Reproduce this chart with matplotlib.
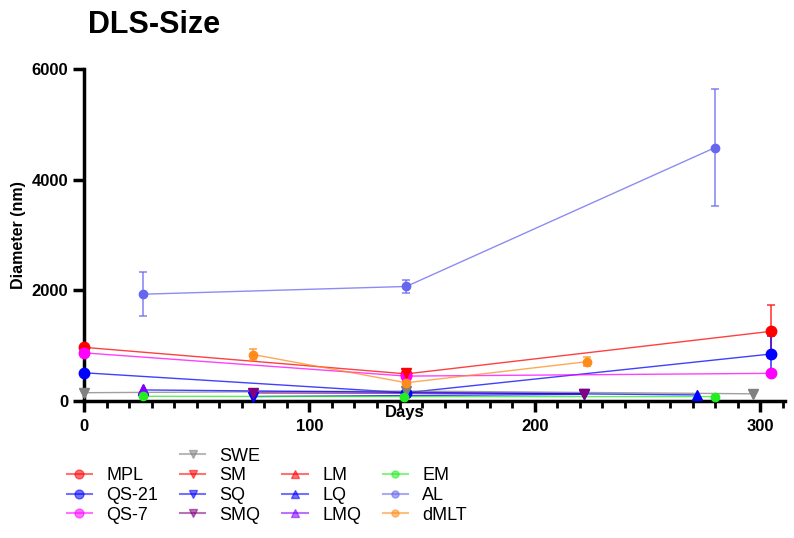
import matplotlib.pyplot as plt
from matplotlib.lines import Line2D
from matplotlib.ticker import MultipleLocator

plt.rcParams["font.family"] = ["Liberation Sans", "DejaVu Sans"]

# DLS size (nm) vs storage time (days) for each formulation
mpl_days = [0, 143, 305]
mpl_size = [970, 490, 1260]
mpl_err = [0, 50, 480]

qs21_days = [0, 143, 305]
qs21_size = [510, 150, 850]
qs21_err = [0, 0, 330]

qs7_days = [0, 143, 305]
qs7_size = [870, 450, 500]

swe_days = [0, 143, 297]
swe_size = [150, 180, 130]

sm_days = [143]
sm_size = [510]

sq_days = [75, 222]
sq_size = [80, 120]

smq_days = [75, 222]
smq_size = [145, 135]

lm_days = [26]
lm_size = [190]

lq_days = [26, 272]
lq_size = [200, 110]

lmq_days = [26]
lmq_size = [210]

em_days = [26, 142, 280]
em_size = [85, 80, 80]

al_days = [26, 143, 280]
al_size = [1930, 2070, 4580]
al_err = [400, 120, 1050]

dmlt_days = [75, 143, 223]
dmlt_size = [840, 330, 710]
dmlt_err = [100, 40, 80]

W, H = 794, 538
fig = plt.figure(figsize=(W / 100, H / 100), dpi=100)
ax = fig.add_axes([84 / W, 1 - 401 / H, (785 - 84) / W, (401 - 69) / H])

def series(x, y, color, marker, label, err=None, ms=6.5, lc=None):
    lc = lc or color
    ax.plot(x, y, color=lc, lw=1.0, alpha=0.75, zorder=2, clip_on=False)
    if err is not None:
        ax.errorbar(x, y, yerr=err, fmt="none", ecolor=lc, elinewidth=1.2,
                    capsize=3, capthick=1.2, alpha=0.75, zorder=2, clip_on=False)
    ax.plot(x, y, ls="none", marker=marker, color=color, ms=ms, zorder=3,
            clip_on=False)
    return Line2D([], [], color=lc, lw=1.5, alpha=0.55, marker=marker,
                  markerfacecolor=color, markeredgecolor=color, ms=ms * 0.85,
                  label=label)

h_mpl = series(mpl_days, mpl_size, "#ff0000", "o", "MPL", mpl_err, ms=7.5)
h_qs21 = series(qs21_days, qs21_size, "#0000ff", "o", "QS-21", qs21_err, ms=7.5)
h_qs7 = series(qs7_days, qs7_size, "#ff00ff", "o", "QS-7", ms=7.5)
h_swe = series(swe_days, swe_size, "#808080", "v", "SWE")
h_sm = series(sm_days, sm_size, "#ff0000", "v", "SM")
h_sq = series(sq_days, sq_size, "#0000ff", "v", "SQ")
h_smq = series(smq_days, smq_size, "#800080", "v", "SMQ")
h_lm = series(lm_days, lm_size, "#ff0000", "^", "LM")
h_lq = series(lq_days, lq_size, "#0000ff", "^", "LQ")
h_lmq = series(lmq_days, lmq_size, "#8000ff", "^", "LMQ")
h_em = series(em_days, em_size, "#22ee22", "o", "EM", ms=6)
h_al = series(al_days, al_size, "#6666ee", "o", "AL", al_err, ms=6)
h_dmlt = series(dmlt_days, dmlt_size, "#ff8c1a", "o", "dMLT", dmlt_err, ms=6)

ax.set_xlim(0, 311)
ax.set_ylim(0, 6000)
ax.xaxis.set_major_locator(MultipleLocator(100))
ax.xaxis.set_minor_locator(MultipleLocator(10))
ax.yaxis.set_major_locator(MultipleLocator(2000))

for side in ["top", "right"]:
    ax.spines[side].set_visible(False)
for side in ["left", "bottom"]:
    ax.spines[side].set_linewidth(2.5)
ax.tick_params(axis="both", which="major", width=2.5, length=8, labelsize=12)
ax.tick_params(axis="x", which="minor", width=2.0, length=5)
ax.tick_params(axis="x", pad=5)
for lbl in ax.get_xticklabels() + ax.get_yticklabels():
    lbl.set_fontweight("bold")

ax.set_ylabel("Diameter (nm)", fontsize=11.5, fontweight="bold", labelpad=4)
fig.text(385 / W, 1 - 413 / H, "Days", fontsize=12, fontweight="bold",
         va="center", ha="left")
fig.text(88 / W, 1 - 25 / H, "DLS-Size", fontsize=22, fontweight="bold",
         va="center", ha="left")

blank = Line2D([], [], color="none", label=" ")
handles = [blank, h_mpl, h_qs21, h_qs7,
           h_swe, h_sm, h_sq, h_smq,
           blank, h_lm, h_lq, h_lmq,
           blank, h_em, h_al, h_dmlt]
labels = [h.get_label() for h in handles]
fig.legend(handles, labels, ncol=4, loc="upper left",
           bbox_to_anchor=(54 / W, 1 - 435 / H), frameon=False,
           fontsize=13, handlelength=1.4, handletextpad=0.8,
           columnspacing=1.2, labelspacing=0.15, borderpad=0.2)

fig.savefig("out.png", dpi=100)
